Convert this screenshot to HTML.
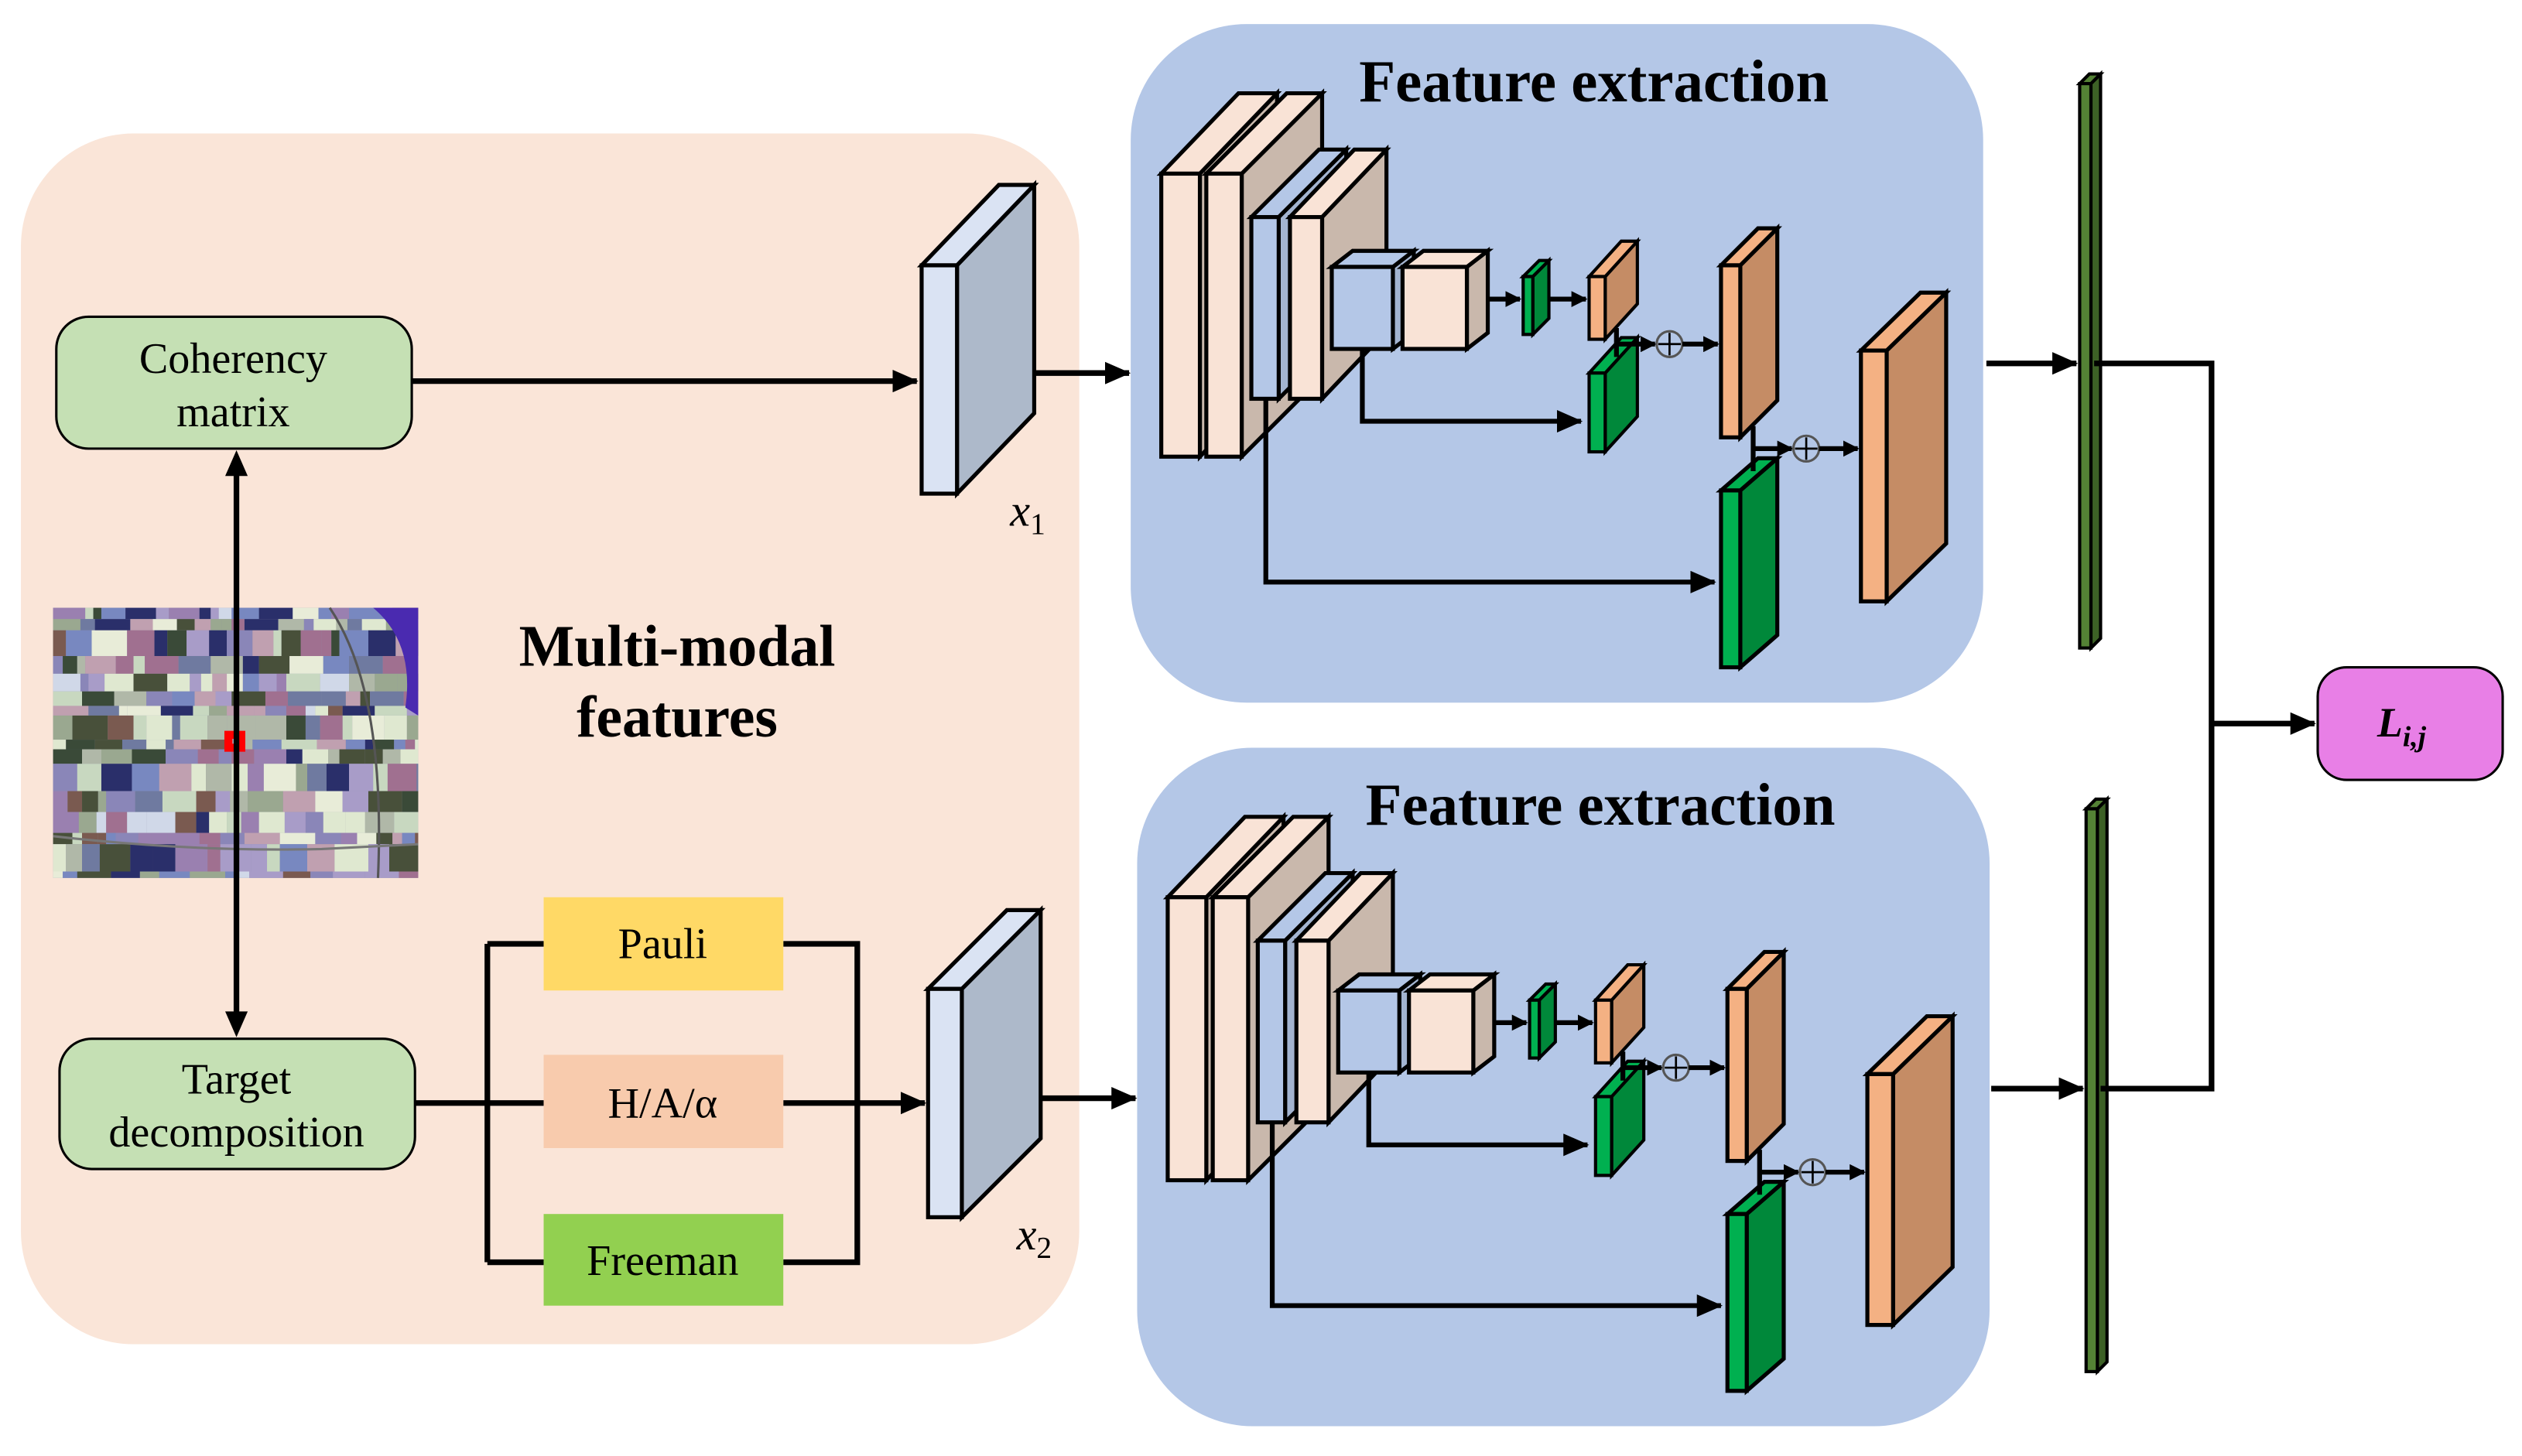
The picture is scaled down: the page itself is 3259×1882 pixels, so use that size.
<!DOCTYPE html>
<html><head><meta charset="utf-8"><style>
html,body{margin:0;padding:0;background:#fff;}
svg{display:block;}
text{font-family:"Liberation Serif",serif;}
</style></head><body>
<svg id="s" width="3259" height="1882" viewBox="0 0 1568 905.5" xmlns="http://www.w3.org/2000/svg">
<defs>
<marker id="ah" markerWidth="10" markerHeight="10" refX="9" refY="5" orient="auto" markerUnits="userSpaceOnUse"><path d="M0,0 L10,5 L0,10 z" fill="#000"/></marker>
<marker id="ah2" markerWidth="16" markerHeight="14" refX="15" refY="7" orient="auto" markerUnits="userSpaceOnUse"><path d="M0,0 L16,7 L0,14 z" fill="#000"/></marker>
</defs>
<rect x="0" y="0" width="1568" height="905.5" fill="#fff"/>
<rect x="13" y="83" width="658" height="753" rx="70" fill="#fae5d8"/>
<g id="img"></g>
<rect x="141" y="456" width="10" height="10" fill="#f00" stroke="#f00" stroke-width="3"/>
<rect x="144.5" y="459.5" width="3" height="3" fill="#aab"/>
<line x1="147" y1="292" x2="147" y2="633" stroke="#000" stroke-width="3.5"/>
<path d="M140,296 L147,280 L154,296z M140,629 L147,645 L154,629z" fill="#000"/>
<rect x="35" y="197" width="221" height="82" rx="20" fill="#c5e0b4" stroke="#000" stroke-width="1.5"/>
<text x="145" y="232" font-size="27" text-anchor="middle">Coherency</text>
<text x="145" y="265" font-size="27" text-anchor="middle">matrix</text>
<rect x="37" y="646" width="221" height="81" rx="20" fill="#c5e0b4" stroke="#000" stroke-width="1.5"/>
<text x="147" y="680" font-size="27" text-anchor="middle">Target</text>
<text x="147" y="713" font-size="27" text-anchor="middle">decomposition</text>
<text x="421" y="414" font-size="36.5" font-weight="bold" text-anchor="middle">Multi-modal</text>
<text x="421" y="458" font-size="36.5" font-weight="bold" text-anchor="middle">features</text>
<line x1="256" y1="237" x2="570" y2="237" stroke="#000" stroke-width="3.5" marker-end="url(#ah2)"/>
<path d="M258,686 H338 M303,587 V785 M303,587 H338 M303,785 H338 M487,587 H533 V785 H487" fill="none" stroke="#000" stroke-width="3.5"/>
<line x1="487" y1="686" x2="575" y2="686" stroke="#000" stroke-width="3.5" marker-end="url(#ah2)"/>
<rect x="338" y="558" width="149" height="58" fill="#ffd966"/>
<text x="412" y="596" font-size="27" text-anchor="middle">Pauli</text>
<rect x="338" y="656" width="149" height="58" fill="#f8cbad"/>
<text x="412" y="695" font-size="27" text-anchor="middle">H/A/α</text>
<rect x="338" y="755" width="149" height="57" fill="#92d050"/>
<text x="412" y="793" font-size="27" text-anchor="middle">Freeman</text>
<g id="x"></g>
<text x="628" y="327" font-size="28" font-style="italic">x<tspan font-size="19" dy="5" font-style="normal">1</tspan></text>
<text x="632" y="777" font-size="28" font-style="italic">x<tspan font-size="19" dy="5" font-style="normal">2</tspan></text>
<line x1="643" y1="232" x2="702" y2="232" stroke="#000" stroke-width="3.5" marker-end="url(#ah2)"/>
<line x1="647" y1="683" x2="706" y2="683" stroke="#000" stroke-width="3.5" marker-end="url(#ah2)"/>
<g id="b1"></g>
<g id="b2" transform="translate(4,450)"></g>
<text x="991" y="63" font-size="37" font-weight="bold" text-anchor="middle">Feature extraction</text>
<text x="995" y="513" font-size="37" font-weight="bold" text-anchor="middle">Feature extraction</text>
<g id="out"></g>
<line x1="1235" y1="226" x2="1291" y2="226" stroke="#000" stroke-width="3.5" marker-end="url(#ah2)"/>
<line x1="1238" y1="677" x2="1295" y2="677" stroke="#000" stroke-width="3.5" marker-end="url(#ah2)"/>
<path d="M1302,226 H1375 V677 H1306" fill="none" stroke="#000" stroke-width="3.5"/>
<line x1="1375" y1="450" x2="1439" y2="450" stroke="#000" stroke-width="3.5" marker-end="url(#ah2)"/>
<rect x="1441" y="415" width="115" height="70" rx="18" fill="#e87fe6" stroke="#000" stroke-width="1.5"/>
<text x="1478" y="458" font-size="26" font-weight="bold" font-style="italic">L<tspan font-size="18" dy="6">i,j</tspan></text>
</svg>
<script>
var NS="http://www.w3.org/2000/svg";
function el(p,t,a){var e=document.createElementNS(NS,t);for(var k in a)e.setAttribute(k,a[k]);p.appendChild(e);return e;}
function prism(g,x,y,w,h,dx,dy,front,side,top,sw){
 sw=sw||2.5;
 el(g,'polygon',{points:[x+w,y,x+w+dx,y+dy,x+w+dx,y+h+dy,x+w,y+h].join(','),fill:side,stroke:'#000','stroke-width':sw});
 el(g,'polygon',{points:[x,y,x+dx,y+dy,x+w+dx,y+dy,x+w,y].join(','),fill:top,stroke:'#000','stroke-width':sw});
 el(g,'rect',{x:x,y:y,width:w,height:h,fill:front,stroke:'#000','stroke-width':sw});
}
function arrow(g,d,m){el(g,'path',{d:d,fill:'none',stroke:'#000','stroke-width':3,'marker-end':'url(#'+(m||'ah')+')'});}
(function(){
 var g=document.getElementById('img');
 el(g,'rect',{x:33,y:378,width:227,height:168,fill:'#8f8fa8'});
 var cols=['#c8d8c0','#dfe8d0','#8a86b8','#6f7aa0','#a89cc8','#2a2f6a','#7a5a50','#b0b8a8','#e8ecd8','#9aa890','#48503a','#a07090','#c0a0b0','#3a4a38','#d0d8e8','#7888c0','#9a80b0'];
 var s=12345;function r(){s=(s*16807)%2147483647;return s/2147483647;}
 for(var y=378;y<546;){var hh=6+Math.floor(r()*12);if(y+hh>546)hh=546-y;
  for(var x=33;x<260;){var ww=5+Math.floor(r()*18);if(x+ww>260)ww=260-x;
   el(g,'rect',{x:x,y:y,width:ww,height:hh,fill:cols[Math.floor(r()*cols.length)]});x+=ww;}
  y+=hh;}
 el(g,'path',{d:'M205,378 Q240,430 235,546',fill:'none',stroke:'#555','stroke-width':1.5});
 el(g,'path',{d:'M33,520 Q120,530 200,528 L260,525',fill:'none',stroke:'#777','stroke-width':1.5});
 el(g,'path',{d:'M232,378 Q258,400 252,440 L260,445 L260,378z',fill:'#4a2ab0'});
})();
(function(){var g=document.getElementById('x');
 prism(g,573,165,22,142,48,-50,'#dae3f3','#adb9ca','#dae3f3');
 prism(g,577,615,21,142,49,-49,'#dae3f3','#adb9ca','#dae3f3');})();
function block(g){
 el(g,'rect',{x:703,y:15,width:530,height:422,rx:72,fill:'#b4c7e7'});
 var pf='#f9e3d6',ps='#c9b8ac',bf='#b4c7e7',bs='#a3b4d0';
 prism(g,722,108,24,176,48,-50,pf,ps,pf);
 prism(g,750,108,22,176,50,-50,pf,ps,pf);
 prism(g,778,135,17,113,42,-42,bf,bs,bf);
 prism(g,802,135,20,113,40,-42,pf,ps,pf);
 arrow(g,'M847,217 V262 H983','ah2');
 arrow(g,'M787,248 V362 H1066','ah2');
 prism(g,828,166,38,51,13,-10,bf,bs,bf);
 prism(g,872,166,40,51,13,-10,pf,ps,pf);
 arrow(g,'M925,186 H945');
 var gf='#00b050',gs='#00883a';
 prism(g,947,172,6,36,10,-10,gf,gs,gf,2);
 arrow(g,'M963,186 H986');
 var of='#f4b183',os='#c58c65';
 prism(g,988,172,10,39,20,-22,of,os,of,2);
 prism(g,988,232,10,49,20,-22,gf,gs,gf,2);
 el(g,'path',{d:'M1005,204 V222',stroke:'#000','stroke-width':3,fill:'none'});
 arrow(g,'M1005,214 H1029');
 el(g,'circle',{cx:1038,cy:214,r:8,fill:'none',stroke:'#555','stroke-width':1.5});
 el(g,'path',{d:'M1031,214 H1045 M1038,207 V221',stroke:'#000','stroke-width':1.3});
 arrow(g,'M1046,214 H1068');
 prism(g,1070,165,12,107,23,-23,of,os,of);
 prism(g,1070,305,12,110,23,-20,gf,gs,gf);
 el(g,'path',{d:'M1090,265 V293',stroke:'#000','stroke-width':3,fill:'none'});
 arrow(g,'M1090,279 H1114');
 el(g,'circle',{cx:1123,cy:279,r:8,fill:'none',stroke:'#555','stroke-width':1.5});
 el(g,'path',{d:'M1116,279 H1130 M1123,272 V286',stroke:'#000','stroke-width':1.3});
 arrow(g,'M1131,279 H1155');
 prism(g,1157,218,16,156,37,-36,of,os,of);
}
block(document.getElementById('b1'));block(document.getElementById('b2'));
(function(){var g=document.getElementById('out');
 prism(g,1293,52,7,351,6,-6,'#548235','#3d6126','#548235',2);
 prism(g,1297,503,7,350,6,-6,'#548235','#3d6126','#548235',2);})();
</script>
</body></html>
